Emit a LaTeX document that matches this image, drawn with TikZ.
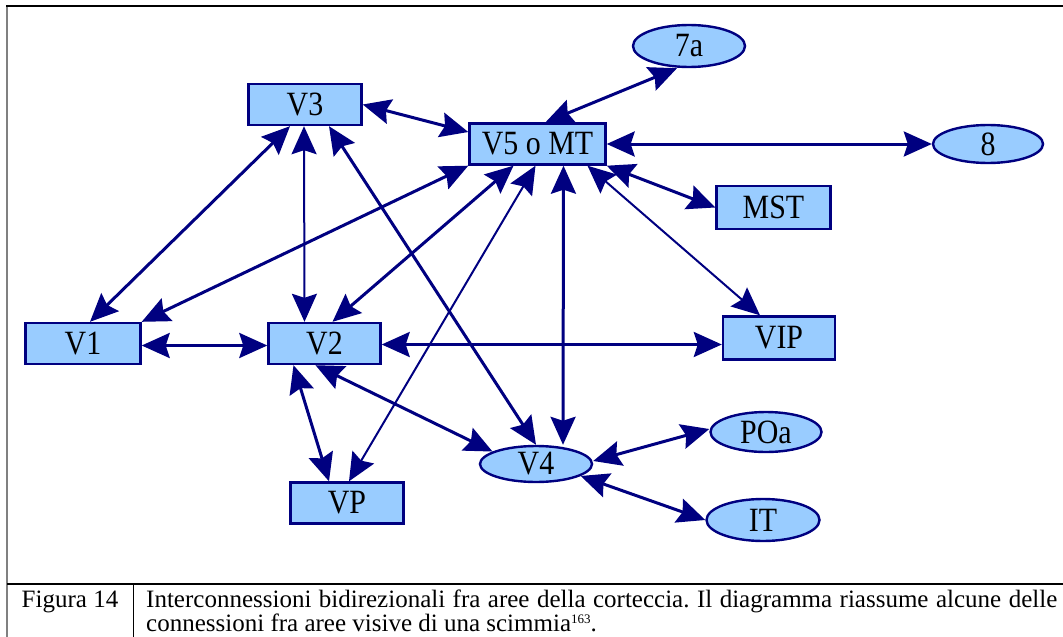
\documentclass[tikz,border=0pt]{standalone}
\usepackage{fontspec}
\setmainfont{Liberation Serif}
\newfontfamily\areafont[FakeStretch=0.88]{Liberation Serif}
\usetikzlibrary{arrows.meta, shapes.geometric}
\definecolor{arealine}{HTML}{000080}
\definecolor{areafill}{HTML}{99CCFF}
\frenchspacing

\begin{document}
\begin{tikzpicture}[x=1pt, y=-1pt,
  area/.style={draw=arealine, line width=2.4pt, fill=areafill, inner sep=0pt,
    font=\areafont\fontsize{34}{40}\selectfont},
  box/.style={area, rectangle, minimum width=#1, minimum height=41pt},
  oval/.style={area, ellipse, minimum width=#1, minimum height=40pt},
  link/.style={{Stealth[length=28pt,width=25pt,inset=4pt]}-{Stealth[length=28pt,width=25pt,inset=4pt]},
    draw=arealine, line width=3pt},
  thin link/.style={link, line width=2pt},
  caption/.style={inner sep=0pt, font=\fontsize{25}{24}\selectfont}
]
  \useasboundingbox (0,0) rectangle (1063,637);

  % frame of the figure table
  \draw[gray, line width=2pt] (7,6) -- (7,637);
  \draw[line width=1.5pt] (6,6) -- (1063,6);
  \draw[line width=1.5pt] (7,584) -- (1063,584);
  \draw[line width=1pt] (133,584) -- (133,637);

  % areas
  \node[box=113pt] (v3) at (305,104.5) {V3};
  \node[box=136pt] (v5) at (537.5,144) {V5 o MT};
  \node[oval=112pt, minimum height=42pt] (s7a) at (689,46) {7a};
  \node[oval=110pt, minimum height=38pt] (n8) at (988,144) {8};
  \node[box=114pt, minimum height=43pt] (mst) at (773.5,207.5) {MST};
  \node[box=115pt] (v1) at (83,343.5) {V1};
  \node[box=112pt] (v2) at (324.5,343.5) {V2};
  \node[box=112pt, minimum height=43pt] (vip) at (779,338) {VIP};
  \node[oval=112pt, minimum height=36pt] (v4) at (536,464) {V4};
  \node[oval=111pt, minimum height=40pt] (poa) at (766,432) {POa};
  \node[oval=113pt, minimum height=42pt] (it) at (763,520) {IT};
  \node[box=113pt] (vp) at (347,503) {VP};

  % connections
  \draw[link] (v3.east) -- ([yshift=12pt]v5.west);
  \draw[link] ([xshift=-15pt]v3.south) -- ([xshift=7pt]v1.north);
  \draw[thin link] ([xshift=-1pt]v3.south) -- ([xshift=-20pt]v2.north);
  \draw[link] ([xshift=24pt]v3.south) -- (v4.north);
  \draw[link] (v5.south west) -- (v1.north east);
  \draw[link] ([xshift=-24pt]v5.south) -- ([xshift=8pt]v2.north);
  \draw[thin link] ([xshift=-2pt]v5.south) -- ([xshift=2pt]vp.north);
  \draw[link] ([xshift=26pt]v5.south) -- ([xshift=27pt]v4.north);
  \draw[thin link] ([xshift=50pt]v5.south) -- ([xshift=-19pt]vip.north);
  \draw[link] (v5.south east) -- (mst.west);
  \draw[link] (v5.east) -- (n8.west);
  \draw[link] ([xshift=8pt]v5.north) -- ([xshift=-12pt]s7a.south);
  \draw[link] ([yshift=-2pt]v1.east) -- ([yshift=-2pt]v2.west);
  \draw[link] ([yshift=-1pt]v2.east) -- ([yshift=-6.5pt]vip.west);
  \draw[link] ([xshift=-31pt]v2.south) -- ([xshift=-18pt]vp.north);
  \draw[link] ([xshift=-9pt]v2.south) -- (v4.164);
  \draw[link] ([yshift=3pt]v4.east) -- ([yshift=3pt]poa.west);
  \draw[link] (v4.-15) -- (it.west);

  % caption
  \node[caption, anchor=base] (fig) at (70,607) {Figura 14};
  \node[caption, anchor=base west] (cap) at (146,607) {\parbox[t]{911pt}{Interconnessioni
    bidirezionali fra aree della corteccia. Il diagramma riassume alcune delle\linebreak
    connessioni fra aree visive di una scimmia\raisebox{8pt}{\fontsize{13}{13}\selectfont 163}.}};
\end{tikzpicture}
\end{document}
